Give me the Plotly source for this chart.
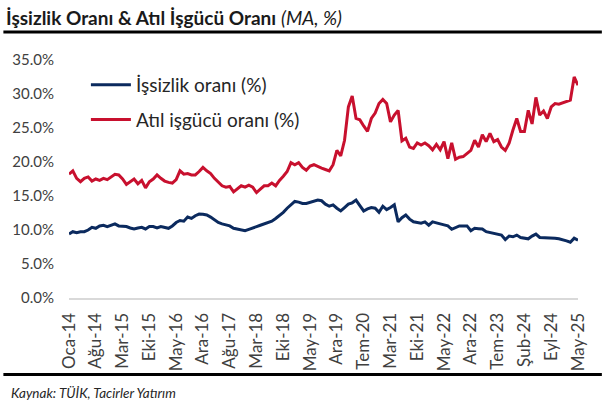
import plotly.graph_objects as go

# Turkish month abbreviations
month_abbr = ["Oca", "Şub", "Mar", "Nis", "May", "Haz", "Tem", "Ağu", "Eyl", "Eki", "Kas", "Ara"]
# months absent from the source category list (axis labels run every 7 categories)
skipped = ["Tem-17", "Şub-21", "Nis-25"]

categories = []
for yr in range(2014, 2026):
    for m in range(12):
        lab = f"{month_abbr[m]}-{str(yr)[2:]}"
        if yr == 2025 and m > 4:
            break
        if lab not in skipped:
            categories.append(lab)

tick_labels = ["Oca-14", "Ağu-14", "Mar-15", "Eki-15", "May-16", "Ara-16", "Ağu-17", "Mar-18",
               "Eki-18", "May-19", "Ara-19", "Tem-20", "Mar-21", "Eki-21", "May-22", "Ara-22",
               "Tem-23", "Şub-24", "Eyl-24", "May-25"]

unemployment = [
    9.4, 9.75, 9.6, 9.75, 9.75, 10.0, 10.4, 10.25, 10.6, 10.7,
    10.5, 10.7, 10.9, 10.6, 10.55, 10.5, 10.3, 10.15, 10.3, 10.4,
    10.15, 10.5, 10.5, 10.3, 10.5, 10.35, 10.25, 10.6, 11.1, 11.4,
    11.3, 11.9, 11.7, 12.1, 12.35, 12.3, 12.2, 11.9, 11.5, 11.1,
    10.9, 10.8, 10.6, 10.25, 10.15, 10.0, 9.9, 10.1, 10.25, 10.5,
    10.7, 10.9, 11.0, 11.3, 11.7, 12.1, 12.6, 13.2, 13.7, 14.2,
    14.1, 13.9, 13.9, 14.1, 14.3, 14.4, 14.3, 13.8, 13.5, 13.7,
    13.2, 12.8, 13.3, 13.8, 14.0, 14.4, 13.6, 12.8, 13.1, 13.3,
    13.2, 12.6, 13.5, 13.0, 13.3, 13.7, 11.2, 11.8, 12.2, 11.6,
    11.2, 11.1, 11.0, 11.2, 10.7, 11.2, 11.0, 10.9, 10.75, 10.6,
    10.1, 10.4, 10.6, 10.6, 10.6, 9.9, 10.25, 10.2, 10.15, 9.75,
    9.6, 9.5, 9.4, 9.25, 8.6, 9.1, 9.0, 9.25, 8.9, 8.8,
    8.7, 9.1, 9.4, 8.9, 8.9, 8.8, 8.9, 8.8, 8.7, 8.6,
    8.4, 8.2, 8.8, 8.5,
]

underutilization = [
    18.2, 18.7, 17.6, 17.1, 17.6, 17.8, 17.2, 17.5, 17.3, 17.6,
    17.4, 17.8, 18.2, 18.1, 17.5, 16.7, 17.1, 17.5, 16.8, 17.3,
    16.2, 17.1, 17.5, 18.1, 17.6, 17.2, 17.0, 16.9, 17.4, 18.7,
    18.2, 18.3, 18.1, 18.1, 18.6, 19.2, 18.7, 18.3, 17.6, 17.0,
    16.5, 16.3, 16.4, 15.6, 16.1, 16.5, 16.3, 16.6, 16.3, 15.5,
    16.0, 16.5, 16.5, 16.9, 16.5, 17.3, 17.9, 18.6, 19.9, 19.6,
    19.9, 19.2, 18.8, 19.4, 19.6, 19.3, 19.1, 18.9, 18.7, 19.6,
    21.7, 20.9, 23.2, 28.1, 29.7, 26.4, 26.2, 25.3, 24.5, 26.4,
    27.2, 28.6, 29.2, 28.6, 25.9, 26.9, 27.6, 23.1, 23.5, 22.2,
    22.0, 22.8, 22.5, 22.8, 22.4, 21.8, 22.6, 21.8, 23.0, 20.5,
    22.8, 20.4, 20.7, 20.8, 21.3, 21.7, 23.2, 22.2, 24.0, 23.0,
    24.2, 23.0, 23.3, 22.2, 21.7, 22.75, 24.7, 26.4, 24.5, 24.5,
    27.6, 25.6, 29.5, 26.9, 27.5, 26.4, 28.1, 28.6, 28.5, 28.7,
    28.9, 29.1, 32.5, 31.3,
]

series_names = ["İşsizlik oranı (%)", "Atıl işgücü oranı (%)"]
colors = ["#0B2A5E", "#C8102E"]

FONT = "Lato"

fig = go.Figure()
for name, vals, col, grp in zip(series_names, [unemployment, underutilization], colors, ["a", "b"]):
    fig.add_trace(go.Scatter(
        x=categories, y=vals, mode="lines", name=name, legendgroup=grp,
        line=dict(color=col, width=3),
    ))

W, H = 602, 408
L, R, T, B = 66, 24, 60, 110
pw, ph = W - L - R, H - T - B

fig.update_layout(
    width=W, height=H,
    margin=dict(l=L, r=R, t=T, b=B),
    paper_bgcolor="white", plot_bgcolor="white",
    font=dict(family=FONT, color="#404040"),
    showlegend=True,
    legend=dict(
        x=(83 - L) / pw, y=1 - (66 - T) / ph, xanchor="left", yanchor="top",
        font=dict(size=19, color="#262626", family=FONT),
        bgcolor="rgba(0,0,0,0)", traceorder="grouped", tracegroupgap=7,
        itemwidth=40,
    ),
    title=dict(
        text="<b>İşsizlik Oranı & Atıl İşgücü Oranı</b> <i>(MA, %)</i>",
        x=6 / W, xref="container", xanchor="left",
        y=1 - 18 / H, yref="container", yanchor="middle",
        font=dict(size=19, color="#1a1a1a", family=FONT),
    ),
    xaxis=dict(
        type="category",
        tickmode="array",
        tickvals=tick_labels,
        ticktext=tick_labels,
        tickangle=-90,
        tickfont=dict(size=17, color="#404040", family=FONT),
        showgrid=False,
        showline=True, linecolor="#D9D9D9", linewidth=2,
        ticks="", ticklabelstandoff=6,
        zeroline=False,
    ),
    yaxis=dict(
        range=[0, 35],
        tickvals=[0, 5, 10, 15, 20, 25, 30, 35],
        ticktext=["0.0%", "5.0%", "10.0%", "15.0%", "20.0%", "25.0%", "30.0%", "35.0%"],
        tickfont=dict(size=15, color="#404040", family=FONT),
        showgrid=False, zeroline=False, showline=False,
        ticks="", ticklabelstandoff=14,
    ),
)

# black rules under the title and above the source note
for ypix in (32, 374.5):
    fig.add_shape(
        type="line", xref="paper", yref="paper",
        x0=-L / pw, x1=(W - L) / pw,
        y0=(H - B - ypix) / ph, y1=(H - B - ypix) / ph,
        line=dict(color="black", width=3),
    )

fig.add_annotation(
    text="<i>Kaynak: TÜİK, Tacirler Yatırım</i>",
    xref="paper", yref="paper",
    x=(6 - L) / pw, y=(H - B - 393) / ph,
    xanchor="left", yanchor="middle", showarrow=False,
    font=dict(size=13.5, color="#262626", family=FONT),
)

fig.write_html(
    "out.html",
    config={"displayModeBar": False},
    post_script="document.body.style.margin='0';document.body.style.overflow='hidden';",
)
